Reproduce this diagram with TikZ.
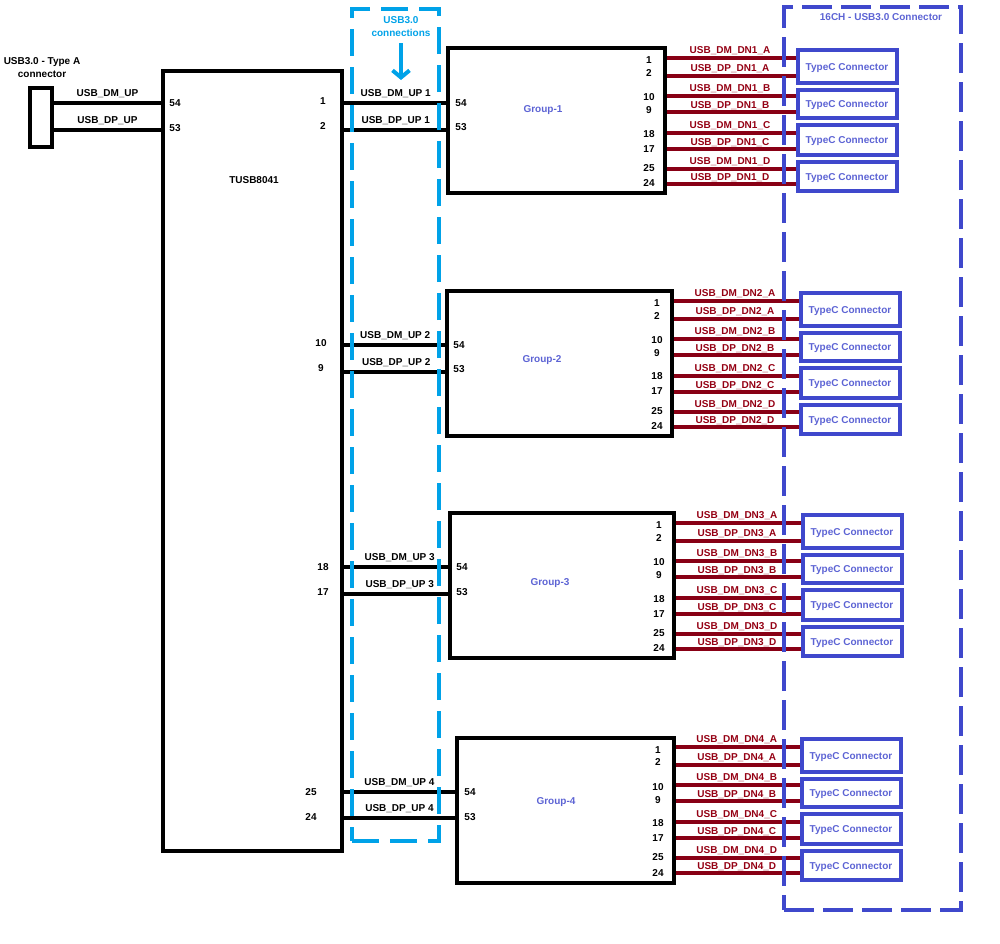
\documentclass[tikz,border=0pt]{standalone}
\usepackage{fontspec}
\setmainfont{Liberation Sans}
\usetikzlibrary{arrows.meta}
\definecolor{usbred}{HTML}{880015}
\definecolor{usbindigo}{HTML}{3F48CC}
\definecolor{usbcyan}{HTML}{00A2E8}
\tikzset{
  block/.style={draw=black,line width=4pt,inner sep=0pt},
  typec/.style={draw=usbindigo,line width=4pt,inner sep=0pt,minimum width=99pt,text height=7pt,text depth=0pt,font=\bfseries\color{usbindigo!85!white}},
  pin/.style={inner sep=0pt,text height=7pt,text depth=0pt,font=\bfseries},
  note/.style={inner sep=0pt,align=center,font=\bfseries},
  upwire/.style={draw=black,line width=3.5pt},
  dnwire/.style={draw=usbred,line width=3.5pt},
  uplabel/.style={midway,above=3.5pt,inner sep=0pt,font=\bfseries},
  dnlabel/.style={midway,above=3.5pt,xshift=-1pt,inner sep=0pt,outer sep=0pt,font=\bfseries\color{usbred!90!red}},
  dnclose/.style={midway,above=2pt,xshift=-1pt,inner sep=0pt,outer sep=0pt,font=\bfseries\color{usbred!90!red}},
  grouptext/.style={inner sep=0pt,text height=7pt,text depth=0pt,font=\bfseries\color{usbindigo!85!white}},
}
\begin{document}
\begin{tikzpicture}[x=1pt,y=-1pt]
    \useasboundingbox (0,0) rectangle (1000,943);

    % hub and upstream connector
    \node[block,minimum width=22pt,minimum height=59pt] (typea) at (41,117.5) {};
    \node[block,minimum width=179pt,minimum height=780pt] (hub) at (252.5,461) {};
    \node[note] (typeaname) at (42,68) {USB3.0 - Type A\\[1pt]connector};
    \node[pin] (hubname) at (254,180) {TUSB8041};
    \node[pin] (hubin54) at (175,103) {54};
    \node[pin] (hubin53) at (175,128) {53};
    \node[pin] (hub1) at (323,101) {1};
    \node[pin] (hub2) at (323,126) {2};
    \node[pin] (hub10) at (321,343) {10};
    \node[pin] (hub9) at (321,368) {9};
    \node[pin] (hub18) at (323,567) {18};
    \node[pin] (hub17) at (323,592) {17};
    \node[pin] (hub25) at (311,792) {25};
    \node[pin] (hub24) at (311,817) {24};
    \coordinate (inm) at (110,103);
    \coordinate (inp) at (110,130);
    \draw[upwire] (inm -| typea.east) -- (inm -| hub.west) node[uplabel] (inmname) {USB\_DM\_UP};
    \draw[upwire] (inp -| typea.east) -- (inp -| hub.west) node[uplabel] (inpname) {USB\_DP\_UP};

    % the four groups
    \node[block,minimum width=217pt,minimum height=145pt] (grp1) at (556,120.5) {};
    \node[block,minimum width=225pt,minimum height=145pt] (grp2) at (559,363.5) {};
    \node[block,minimum width=224pt,minimum height=145pt] (grp3) at (561.5,585.5) {};
    \node[block,minimum width=217pt,minimum height=145pt] (grp4) at (565.5,810) {};
    \node[grouptext] (grp1name) at (543,109) {Group-1};
    \node[grouptext] (grp2name) at (542,359) {Group-2};
    \node[grouptext] (grp3name) at (550,582) {Group-3};
    \node[grouptext] (grp4name) at (556,801) {Group-4};

    % upstream links
    \node[pin] (grp1in54) at (461,103) {54};
    \node[pin] (grp1in53) at (461,127) {53};
    \node[pin] (grp2in54) at (459,345) {54};
    \node[pin] (grp2in53) at (459,369) {53};
    \node[pin] (grp3in54) at (462,567) {54};
    \node[pin] (grp3in53) at (462,592) {53};
    \node[pin] (grp4in54) at (470,792) {54};
    \node[pin] (grp4in53) at (470,817) {53};
    \coordinate (up1m) at (396,103);
    \coordinate (up1p) at (396,130);
    \coordinate (up2m) at (396,345);
    \coordinate (up2p) at (396,372);
    \coordinate (up3m) at (396,567);
    \coordinate (up3p) at (396,594);
    \coordinate (up4m) at (396,792);
    \coordinate (up4p) at (396,818);
    \draw[upwire] (up1m -| hub.east) -- (up1m -| grp1.west) node[uplabel,xshift=1pt] (up1mname) {USB\_DM\_UP 1};
    \draw[upwire] (up1p -| hub.east) -- (up1p -| grp1.west) node[uplabel,xshift=1pt] (up1pname) {USB\_DP\_UP 1};
    \draw[upwire] (up2m -| hub.east) -- (up2m -| grp2.west) node[uplabel,xshift=1pt] (up2mname) {USB\_DM\_UP 2};
    \draw[upwire] (up2p -| hub.east) -- (up2p -| grp2.west) node[uplabel,xshift=2pt] (up2pname) {USB\_DP\_UP 2};
    \draw[upwire] (up3m -| hub.east) -- (up3m -| grp3.west) node[uplabel,xshift=4pt] (up3mname) {USB\_DM\_UP 3};
    \draw[upwire] (up3p -| hub.east) -- (up3p -| grp3.west) node[uplabel,xshift=4pt] (up3pname) {USB\_DP\_UP 3};
    \draw[upwire] (up4m -| hub.east) -- (up4m -| grp4.west) node[uplabel] (up4mname) {USB\_DM\_UP 4};
    \draw[upwire] (up4p -| hub.east) -- (up4p -| grp4.west) node[uplabel] (up4pname) {USB\_DP\_UP 4};

    % group 1 outputs
    \node[typec,minimum height=33pt] (c1a) at (847,66.5) {TypeC Connector};
    \node[typec,minimum height=28pt] (c1b) at (847,104) {TypeC Connector};
    \node[typec,minimum height=30pt] (c1c) at (847,140) {TypeC Connector};
    \node[typec,minimum height=29pt] (c1d) at (847,176.5) {TypeC Connector};
    \node[pin] (g1p1) at (649,60) {1};   \coordinate (g1w1) at (730,58);
    \node[pin] (g1p2) at (649,73) {2};   \coordinate (g1w2) at (730,76);
    \node[pin] (g1p3) at (649,97) {10};  \coordinate (g1w3) at (730,96);
    \node[pin] (g1p4) at (649,110) {9};  \coordinate (g1w4) at (730,112);
    \node[pin] (g1p5) at (649,134) {18}; \coordinate (g1w5) at (730,133);
    \node[pin] (g1p6) at (649,149) {17}; \coordinate (g1w6) at (730,149);
    \node[pin] (g1p7) at (649,168) {25}; \coordinate (g1w7) at (730,169);
    \node[pin] (g1p8) at (649,183) {24}; \coordinate (g1w8) at (730,184);
    \draw[dnwire] (g1w1 -| grp1.east) -- (g1w1 -| c1a.west) node[dnlabel] (g1l1) {USB\_DM\_DN1\_A};
    \draw[dnwire] (g1w2 -| grp1.east) -- (g1w2 -| c1a.west) node[dnlabel] (g1l2) {USB\_DP\_DN1\_A};
    \draw[dnwire] (g1w3 -| grp1.east) -- (g1w3 -| c1b.west) node[dnlabel] (g1l3) {USB\_DM\_DN1\_B};
    \draw[dnwire] (g1w4 -| grp1.east) -- (g1w4 -| c1b.west) node[dnclose] (g1l4) {USB\_DP\_DN1\_B};
    \draw[dnwire] (g1w5 -| grp1.east) -- (g1w5 -| c1c.west) node[dnlabel] (g1l5) {USB\_DM\_DN1\_C};
    \draw[dnwire] (g1w6 -| grp1.east) -- (g1w6 -| c1c.west) node[dnclose] (g1l6) {USB\_DP\_DN1\_C};
    \draw[dnwire] (g1w7 -| grp1.east) -- (g1w7 -| c1d.west) node[dnlabel] (g1l7) {USB\_DM\_DN1\_D};
    \draw[dnwire] (g1w8 -| grp1.east) -- (g1w8 -| c1d.west) node[dnclose] (g1l8) {USB\_DP\_DN1\_D};

    % group 2 outputs
    \node[typec,minimum height=33pt] (c2a) at (850,309.5) {TypeC Connector};
    \node[typec,minimum height=28pt] (c2b) at (850,347) {TypeC Connector};
    \node[typec,minimum height=30pt] (c2c) at (850,383) {TypeC Connector};
    \node[typec,minimum height=29pt] (c2d) at (850,419.5) {TypeC Connector};
    \node[pin] (g2p1) at (657,303) {1};  \coordinate (g2w1) at (730,301);
    \node[pin] (g2p2) at (657,316) {2};  \coordinate (g2w2) at (730,319);
    \node[pin] (g2p3) at (657,340) {10}; \coordinate (g2w3) at (730,339);
    \node[pin] (g2p4) at (657,353) {9};  \coordinate (g2w4) at (730,355);
    \node[pin] (g2p5) at (657,376) {18}; \coordinate (g2w5) at (730,376);
    \node[pin] (g2p6) at (657,391) {17}; \coordinate (g2w6) at (730,392);
    \node[pin] (g2p7) at (657,411) {25}; \coordinate (g2w7) at (730,412);
    \node[pin] (g2p8) at (657,426) {24}; \coordinate (g2w8) at (730,427);
    \draw[dnwire] (g2w1 -| grp2.east) -- (g2w1 -| c2a.west) node[dnlabel] (g2l1) {USB\_DM\_DN2\_A};
    \draw[dnwire] (g2w2 -| grp2.east) -- (g2w2 -| c2a.west) node[dnlabel] (g2l2) {USB\_DP\_DN2\_A};
    \draw[dnwire] (g2w3 -| grp2.east) -- (g2w3 -| c2b.west) node[dnlabel] (g2l3) {USB\_DM\_DN2\_B};
    \draw[dnwire] (g2w4 -| grp2.east) -- (g2w4 -| c2b.west) node[dnclose] (g2l4) {USB\_DP\_DN2\_B};
    \draw[dnwire] (g2w5 -| grp2.east) -- (g2w5 -| c2c.west) node[dnlabel] (g2l5) {USB\_DM\_DN2\_C};
    \draw[dnwire] (g2w6 -| grp2.east) -- (g2w6 -| c2c.west) node[dnclose] (g2l6) {USB\_DP\_DN2\_C};
    \draw[dnwire] (g2w7 -| grp2.east) -- (g2w7 -| c2d.west) node[dnlabel] (g2l7) {USB\_DM\_DN2\_D};
    \draw[dnwire] (g2w8 -| grp2.east) -- (g2w8 -| c2d.west) node[dnclose] (g2l8) {USB\_DP\_DN2\_D};

    % group 3 outputs
    \node[typec,minimum height=33pt] (c3a) at (852,531.5) {TypeC Connector};
    \node[typec,minimum height=28pt] (c3b) at (852,569) {TypeC Connector};
    \node[typec,minimum height=30pt] (c3c) at (852,605) {TypeC Connector};
    \node[typec,minimum height=29pt] (c3d) at (852,641.5) {TypeC Connector};
    \node[pin] (g3p1) at (659,525) {1};  \coordinate (g3w1) at (730,523);
    \node[pin] (g3p2) at (659,538) {2};  \coordinate (g3w2) at (730,541);
    \node[pin] (g3p3) at (659,562) {10}; \coordinate (g3w3) at (730,561);
    \node[pin] (g3p4) at (659,575) {9};  \coordinate (g3w4) at (730,577);
    \node[pin] (g3p5) at (659,599) {18}; \coordinate (g3w5) at (730,598);
    \node[pin] (g3p6) at (659,614) {17}; \coordinate (g3w6) at (730,614);
    \node[pin] (g3p7) at (659,633) {25}; \coordinate (g3w7) at (730,634);
    \node[pin] (g3p8) at (659,648) {24}; \coordinate (g3w8) at (730,649);
    \draw[dnwire] (g3w1 -| grp3.east) -- (g3w1 -| c3a.west) node[dnlabel] (g3l1) {USB\_DM\_DN3\_A};
    \draw[dnwire] (g3w2 -| grp3.east) -- (g3w2 -| c3a.west) node[dnlabel] (g3l2) {USB\_DP\_DN3\_A};
    \draw[dnwire] (g3w3 -| grp3.east) -- (g3w3 -| c3b.west) node[dnlabel] (g3l3) {USB\_DM\_DN3\_B};
    \draw[dnwire] (g3w4 -| grp3.east) -- (g3w4 -| c3b.west) node[dnclose] (g3l4) {USB\_DP\_DN3\_B};
    \draw[dnwire] (g3w5 -| grp3.east) -- (g3w5 -| c3c.west) node[dnlabel] (g3l5) {USB\_DM\_DN3\_C};
    \draw[dnwire] (g3w6 -| grp3.east) -- (g3w6 -| c3c.west) node[dnclose] (g3l6) {USB\_DP\_DN3\_C};
    \draw[dnwire] (g3w7 -| grp3.east) -- (g3w7 -| c3d.west) node[dnlabel] (g3l7) {USB\_DM\_DN3\_D};
    \draw[dnwire] (g3w8 -| grp3.east) -- (g3w8 -| c3d.west) node[dnclose] (g3l8) {USB\_DP\_DN3\_D};

    % group 4 outputs
    \node[typec,minimum height=33pt] (c4a) at (851,755.5) {TypeC Connector};
    \node[typec,minimum height=28pt] (c4b) at (851,793) {TypeC Connector};
    \node[typec,minimum height=30pt] (c4c) at (851,829) {TypeC Connector};
    \node[typec,minimum height=29pt] (c4d) at (851,865.5) {TypeC Connector};
    \node[pin] (g4p1) at (658,750) {1};  \coordinate (g4w1) at (730,747);
    \node[pin] (g4p2) at (658,762) {2};  \coordinate (g4w2) at (730,765);
    \node[pin] (g4p3) at (658,787) {10}; \coordinate (g4w3) at (730,785);
    \node[pin] (g4p4) at (658,800) {9};  \coordinate (g4w4) at (730,801);
    \node[pin] (g4p5) at (658,823) {18}; \coordinate (g4w5) at (730,822);
    \node[pin] (g4p6) at (658,838) {17}; \coordinate (g4w6) at (730,838);
    \node[pin] (g4p7) at (658,857) {25}; \coordinate (g4w7) at (730,858);
    \node[pin] (g4p8) at (658,873) {24}; \coordinate (g4w8) at (730,873);
    \draw[dnwire] (g4w1 -| grp4.east) -- (g4w1 -| c4a.west) node[dnlabel] (g4l1) {USB\_DM\_DN4\_A};
    \draw[dnwire] (g4w2 -| grp4.east) -- (g4w2 -| c4a.west) node[dnlabel] (g4l2) {USB\_DP\_DN4\_A};
    \draw[dnwire] (g4w3 -| grp4.east) -- (g4w3 -| c4b.west) node[dnlabel] (g4l3) {USB\_DM\_DN4\_B};
    \draw[dnwire] (g4w4 -| grp4.east) -- (g4w4 -| c4b.west) node[dnclose] (g4l4) {USB\_DP\_DN4\_B};
    \draw[dnwire] (g4w5 -| grp4.east) -- (g4w5 -| c4c.west) node[dnlabel] (g4l5) {USB\_DM\_DN4\_C};
    \draw[dnwire] (g4w6 -| grp4.east) -- (g4w6 -| c4c.west) node[dnclose] (g4l6) {USB\_DP\_DN4\_C};
    \draw[dnwire] (g4w7 -| grp4.east) -- (g4w7 -| c4d.west) node[dnlabel] (g4l7) {USB\_DM\_DN4\_D};
    \draw[dnwire] (g4w8 -| grp4.east) -- (g4w8 -| c4d.west) node[dnclose] (g4l8) {USB\_DP\_DN4\_D};

    % dashed frames go over the wires
    \node[draw=usbcyan,line width=4pt,dash pattern=on 27pt off 11pt,inner sep=0pt,minimum width=87pt,minimum height=832pt] (usbframe) at (395.5,425) {};
    \node[draw=usbindigo,line width=4pt,dash pattern=on 30pt off 9pt,inner sep=0pt,minimum width=177pt,minimum height=903pt] (chframe) at (872.5,458.5) {};
    \node[note,text=usbcyan] (usbname) at (401,27) {USB3.0\\[1pt]connections};
    \node[note,text=usbindigo!85!white] (chname) at (881,17) {16CH - USB3.0 Connector};
    \coordinate (usbtail) at (401,43);
    \coordinate (usbtip) at (401,80);
    \draw[usbcyan,line width=4pt,-{Straight Barb[length=7pt,width=17pt]}] (usbtail) -- (usbtip);
  \end{tikzpicture}
\end{document}
